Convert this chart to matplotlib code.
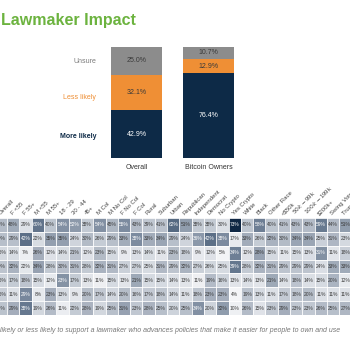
import numpy as np
import matplotlib
matplotlib.use('Agg')
import matplotlib.pyplot as plt
from matplotlib.colors import LinearSegmentedColormap

plt.rcParams['font.family'] = ['Liberation Sans', 'DejaVu Sans']

# stacked bars
bar_groups = ['Overall', 'Bitcoin Owners']
more_likely = [42.9, 76.4]
less_likely = [32.1, 12.9]
unsure = [25.0, 10.7]

# heatmap (crop of a wider table)
columns = ['Overall', 'F <55', 'F 55+', 'M <55', 'M 55+', '18 - 29', '30 - 44', '45+',
           'M Col', 'M No Col', 'F No Col', 'F Col', 'Rural', 'Suburban', 'Urban',
           'Republican', 'Independent', 'Democrat', 'No Crypto', 'Yes Crypto', 'White',
           'Black', 'Other Race', '<$50k', '$50k - $99k', '$100k - $199k', '$200k+',
           'Swing Voter', 'Trump Voter']
row_a = [43, 48, 29, 60, 40, 54, 52, 38, 54, 45, 55, 43, 39, 41, 62,
         51, 38, 38, 30, 73, 40, 58, 40, 41, 43, 43, 59, 44, 51]
row_b = [29, 29, 42, 22, 35, 35, 24, 30, 26, 29, 33, 38, 33, 34, 29,
         24, 36, 42, 38, 17, 33, 26, 32, 30, 34, 34, 25, 31, 23]
row_c = [15, 14, 7, 26, 12, 14, 21, 12, 23, 15, 9, 13, 14, 11, 23,
         18, 9, 12, 5, 34, 12, 28, 15, 11, 15, 13, 31, 11, 18]
row_d = [29, 32, 22, 34, 28, 30, 31, 28, 32, 31, 27, 27, 25, 31, 29,
         32, 27, 26, 25, 39, 28, 32, 31, 29, 29, 29, 24, 33, 33]
row_e = [16, 17, 18, 15, 12, 23, 17, 13, 11, 15, 13, 21, 15, 15, 14,
         13, 11, 19, 16, 13, 14, 13, 21, 14, 18, 14, 15, 20, 12]
row_f = [16, 11, 29, 8, 23, 13, 9, 20, 17, 14, 20, 16, 17, 18, 14,
         11, 18, 23, 23, 4, 19, 13, 11, 17, 18, 20, 11, 11, 11]
row_g = [24, 29, 38, 19, 26, 11, 22, 28, 19, 25, 31, 23, 28, 25, 20,
         25, 34, 20, 32, 10, 26, 15, 23, 29, 23, 23, 26, 25, 27]

NAVY = '#0d2a47'
ORANGE = '#ef8f35'
GREY = '#8c8c8c'

W = H = 350.0
fig = plt.figure(figsize=(3.5, 3.5), dpi=100)

fig.text(1 / W, 1 - 20 / H, 'Lawmaker Impact', color='#6cb33f', fontsize=11.5,
         fontweight='bold', va='center', ha='left')

# ---- bar chart
ax = fig.add_axes([100.5 / W, 1 - 158 / H, 144 / W, 111 / H])
x = np.arange(len(bar_groups))
bw = 0.71
ax.bar(x, more_likely, bw, color=NAVY)
ax.bar(x, less_likely, bw, bottom=more_likely, color=ORANGE)
ax.bar(x, unsure, bw, bottom=np.add(more_likely, less_likely), color=GREY)
for i in range(len(x)):
    b0 = 0
    for vals, c in [(more_likely, 'white'), (less_likely, '#3a3a3a'), (unsure, '#3a3a3a')]:
        ax.text(x[i], b0 + vals[i] / 2, f'{vals[i]:.1f}%', ha='center', va='center',
                fontsize=5, color=c)
        b0 += vals[i]
ax.set_xlim(-0.5, 1.5)
ax.set_ylim(0, 100)
ax.set_xticks(x)
ax.set_xticklabels(bar_groups, fontsize=5, color='#333333')
ax.tick_params(length=0, pad=4)
ax.set_yticks([])
for s in ax.spines.values():
    s.set_visible(False)
ax.text(-0.56, more_likely[0] / 2 - 2, 'More likely', ha='right', va='center',
        fontsize=5, color=NAVY, fontweight='bold')
ax.text(-0.56, more_likely[0] + less_likely[0] / 2 - 4, 'Less likely', ha='right',
        va='center', fontsize=5, color=ORANGE)
ax.text(-0.56, more_likely[0] + less_likely[0] + unsure[0] / 2 - 1, 'Unsure',
        ha='right', va='center', fontsize=5, color='#7a7a7a')

# ---- heatmap, shaded partly per row and partly over the whole table
data = np.array([row_a, row_b, row_c, row_d, row_e, row_f, row_g], dtype=float)
cmap = LinearSegmentedColormap.from_list(
    'slate', [(0, '#f4f5f7'), (0.25, '#d5dae1'), (0.5, '#aab3c0'),
              (0.75, '#66788f'), (1.0, '#0f2744')])
rmin = data.min(axis=1, keepdims=True)
rmax = data.max(axis=1, keepdims=True)
shade = 0.5 * (data - rmin) / (rmax - rmin) + 0.5 * (data - data.min()) / (data.max() - data.min())

ncol = len(columns)
cw = 12.3
hx0 = 1 - cw / 2
top, bot = 218, 315
hax = fig.add_axes([hx0 / W, 1 - bot / H, ncol * cw / W, (bot - top) / H])
hax.imshow(shade, cmap=cmap, vmin=0, vmax=1, aspect='auto')
for r in range(data.shape[0]):
    for c in range(ncol):
        v = data[r, c]
        hax.text(c, r, f'{v:.0f}%', ha='center', va='center', fontsize=3.5,
                 color='white' if shade[r, c] > 0.6 else '#3a3a3a')
hax.set_xticks(np.arange(ncol + 1) - 0.5, minor=True)
hax.set_yticks(np.arange(data.shape[0] + 1) - 0.5, minor=True)
hax.grid(which='minor', color='white', linewidth=0.6)
hax.tick_params(which='both', length=0)
hax.xaxis.tick_top()
hax.set_xticks(np.arange(ncol))
hax.set_xticklabels(columns, rotation=45, ha='left', rotation_mode='anchor',
                    fontsize=4.3, color='#444444')
hax.tick_params(axis='x', pad=1.5)
hax.set_yticks([])
for s in hax.spines.values():
    s.set_visible(False)

fig.text(0 / W, 1 - 331 / H,
         'likely or less likely to support a lawmaker who advances policies that make it '
         'easier for people to own and use',
         fontsize=5.0, style='italic', color='#777777', va='center', ha='left')

fig.savefig('out.png', dpi=100)
